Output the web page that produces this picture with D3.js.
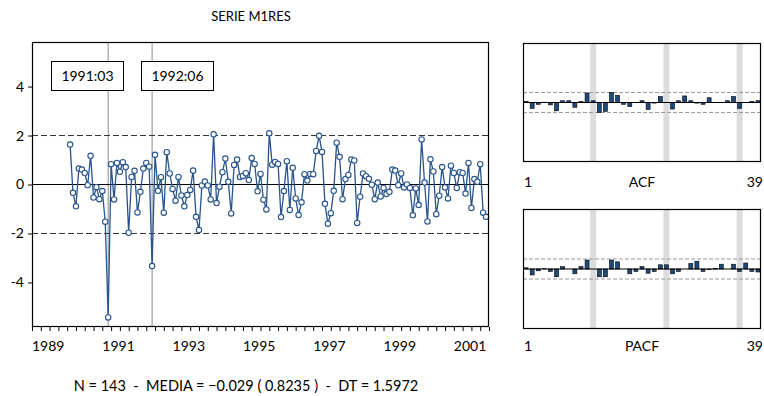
<!DOCTYPE html>
<html><head><meta charset="utf-8">
<script src="https://cdn.jsdelivr.net/npm/d3@7"></script>
<style>body{margin:0;background:#fff}svg{display:block;font-family:Lato,"Open Sans",sans-serif}text{white-space:pre}</style>
</head><body><svg id="c" width="764" height="396"></svg>
<script>
const title = "SERIE M1RES";
const footer = "N = 143  -  MEDIA = \u22120.029 ( 0.8235 )  -  DT = 1.5972";
const startYear = 1990, startMonth = 2;
const m1res = [1.63,-0.34,-0.89,0.65,0.61,0.47,-0.03,1.17,-0.53,-0.11,-0.60,-0.27,-1.52,-5.43,0.83,-0.61,0.88,0.52,0.91,0.71,
-1.97,0.31,0.56,-1.14,-0.30,0.65,0.88,0.73,-3.33,1.21,-0.26,0.30,-1.15,1.32,0.45,-0.18,-0.66,0.31,-0.45,-0.89,
-0.43,-0.22,0.57,-1.32,-1.86,-0.04,0.12,-0.04,-0.61,2.05,-0.76,-0.09,0.50,1.06,0.11,-1.18,0.80,1.02,0.31,0.35,
0.46,0.18,1.08,0.84,-0.28,0.43,-0.62,-1.02,2.09,0.81,0.92,0.84,-1.33,-0.27,0.95,-1.04,0.68,-0.57,-1.25,-0.73,
0.42,0.16,0.43,0.42,1.37,1.99,1.33,-0.79,-1.60,-1.17,-0.26,1.71,1.13,-0.60,0.22,0.39,1.02,0.98,-1.57,-0.50,
0.45,0.34,0.23,-0.01,-0.60,0.08,-0.49,-0.14,-0.39,-0.30,0.61,0.57,-0.03,0.45,-0.12,0.00,-0.14,-1.26,-0.16,-0.84,
1.84,0.08,-1.51,1.03,0.53,-1.21,-0.46,0.71,-0.12,-0.57,0.77,0.47,-0.14,0.50,0.47,-0.37,0.88,-0.96,0.22,0.11,
0.83,-1.15,-1.32];
const yTicks = [4,2,0,-2,-4];
const refLines = [2,-2];
const yearLabels = [1989,1991,1993,1995,1997,1999,2001];
const markerLabels = ["1991:03","1992:06"];
const acf = [0.02,-0.10,-0.03,0.005,-0.04,-0.14,0.03,0.03,-0.08,0.02,0.16,0.03,-0.17,-0.15,0.17,0.12,-0.03,-0.07,0.0,0.03,
-0.12,-0.01,0.10,0.0,-0.11,0.03,0.11,0.03,-0.01,-0.03,0.08,0.0,0.0,0.03,0.10,-0.10,0.0,0.02,0.03];
const pacf = [0.02,-0.10,-0.03,0.005,-0.04,-0.13,0.04,0.0,-0.08,0.04,0.15,0.0,-0.13,-0.13,0.15,0.12,0.0,-0.08,-0.04,0.04,
-0.07,-0.04,0.07,0.07,-0.08,-0.04,0.0,0.09,0.13,-0.04,-0.01,0.01,0.08,0.0,0.08,-0.04,0.10,-0.04,-0.05];
const seasonalLags = [12,24,36];

const svg = d3.select("#c");
const blue = "#27548c";

// ---- main chart ----
const L=32, R=489, T=42, B=327;
const x = d3.scaleLinear().domain([1989,2002]).range([L,R]);
const y = d3.scaleLinear().domain([-5.82,5.82]).range([B,T]);
const tOf = i => startYear + (startMonth-1+i)/12;
const monthT = s => { const [yy,mm]=s.split(":").map(Number); return yy+(mm-1)/12; };

svg.append("text").attr("x",251).attr("y",21).attr("text-anchor","middle").attr("font-size",13).text(title);

const g = svg.append("g");
g.append("rect").attr("x",L).attr("y",T).attr("width",R-L).attr("height",B-T).attr("fill","#fff");
markerLabels.forEach(s=>{
  g.append("line").attr("x1",x(monthT(s))).attr("x2",x(monthT(s))).attr("y1",T).attr("y2",B)
   .attr("stroke","#8a8a8a").attr("stroke-width",1);
});
refLines.forEach(v=>{
  g.append("line").attr("x1",L).attr("x2",R).attr("y1",y(v)).attr("y2",y(v))
   .attr("stroke","#333").attr("stroke-width",1).attr("stroke-dasharray","6,3");
});
g.append("line").attr("x1",L).attr("x2",R).attr("y1",y(0)).attr("y2",y(0)).attr("stroke","#000").attr("stroke-width",1.2);

const line = d3.line().x((d,i)=>x(tOf(i))).y(d=>y(d));
g.append("path").datum(m1res).attr("d",line).attr("fill","none").attr("stroke",blue).attr("stroke-width",1.3);
g.selectAll("circle.p").data(m1res).join("circle").attr("class","p")
  .attr("cx",(d,i)=>x(tOf(i))).attr("cy",d=>y(d)).attr("r",2.7)
  .attr("fill","#fff").attr("stroke",blue).attr("stroke-width",1.1);

const boxX = [51,141];
markerLabels.forEach((s,k)=>{
  g.append("rect").attr("x",boxX[k]+0.5).attr("y",61.5).attr("width",72).attr("height",29)
   .attr("fill","#fff").attr("stroke","#000").attr("stroke-width",1);
  g.append("text").attr("x",boxX[k]+36.5).attr("y",81).attr("text-anchor","middle").attr("font-size",14).text(s);
});

g.append("rect").attr("x",L+0.5).attr("y",T+0.5).attr("width",R-L-1).attr("height",B-T-1)
  .attr("fill","none").attr("stroke","#000").attr("stroke-width",1.2);

const yAx = svg.append("g").attr("transform",`translate(${L},0)`)
  .call(d3.axisLeft(y).tickValues(yTicks).tickSize(4).tickPadding(4).tickFormat(d=>d<0?"-"+Math.abs(d):d));
yAx.select(".domain").remove();
yAx.selectAll("text").attr("font-size",14).attr("font-family","Lato,sans-serif").attr("fill","#000");

const minor = d3.range(1989,2002.01,0.25);
const xAx = svg.append("g").attr("transform",`translate(0,${B})`)
  .call(d3.axisBottom(x).tickValues(minor).tickSize(4).tickFormat(""));
xAx.select(".domain").remove();
xAx.selectAll(".tick line").attr("stroke","#000");
svg.append("g").selectAll("text").data(yearLabels).join("text")
  .attr("x",d=>x(d)).attr("y",351).attr("font-size",14).attr("text-anchor","start").text(d=>d);

svg.append("text").attr("x",246).attr("y",391).attr("text-anchor","middle").attr("font-size",14.5).text(footer);

function panel(vals, top, bottom, label, labelY){
  const pL=523, pR=761;
  const px = d3.scaleLinear().domain([0.5,39.5]).range([pL,pR]);
  const py = d3.scaleLinear().domain([-1,1]).range([bottom,top]);
  const pg = svg.append("g");
  pg.selectAll("rect.band").data(seasonalLags).join("rect").attr("class","band")
    .attr("x",d=>px(d)-3).attr("width",6).attr("y",top).attr("height",bottom-top).attr("fill","#dcdcdc");
  const ci = 2/Math.sqrt(m1res.length);
  [ci,-ci].forEach(v=>pg.append("line").attr("x1",pL).attr("x2",pR).attr("y1",py(v)).attr("y2",py(v))
    .attr("stroke","#9a9a9a").attr("stroke-dasharray","4,2"));
  pg.selectAll("rect.bar").data(vals).join("rect").attr("class","bar")
    .attr("x",(d,i)=>px(i+1)-2).attr("width",4)
    .attr("y",d=>Math.min(py(d),py(0))).attr("height",d=>Math.abs(py(d)-py(0)))
    .attr("fill","#1f4a7c").attr("stroke","#000").attr("stroke-width",0.6);
  pg.append("line").attr("x1",pL).attr("x2",pR).attr("y1",py(0)).attr("y2",py(0)).attr("stroke","#000").attr("stroke-width",1.2);
  pg.append("rect").attr("x",pL+0.5).attr("y",top+0.5).attr("width",pR-pL-1).attr("height",bottom-top-1)
    .attr("fill","none").attr("stroke","#000").attr("stroke-width",1.2);
  pg.append("text").attr("x",pL+1).attr("y",labelY).attr("font-size",14).text("1");
  pg.append("text").attr("x",642).attr("y",labelY).attr("font-size",14).attr("text-anchor","middle").text(label);
  pg.append("text").attr("x",pR+2).attr("y",labelY).attr("font-size",14).attr("text-anchor","end").text("39");
}
panel(acf, 43, 162, "ACF", 187);
panel(pacf, 209, 329, "PACF", 351);
</script></body></html>
